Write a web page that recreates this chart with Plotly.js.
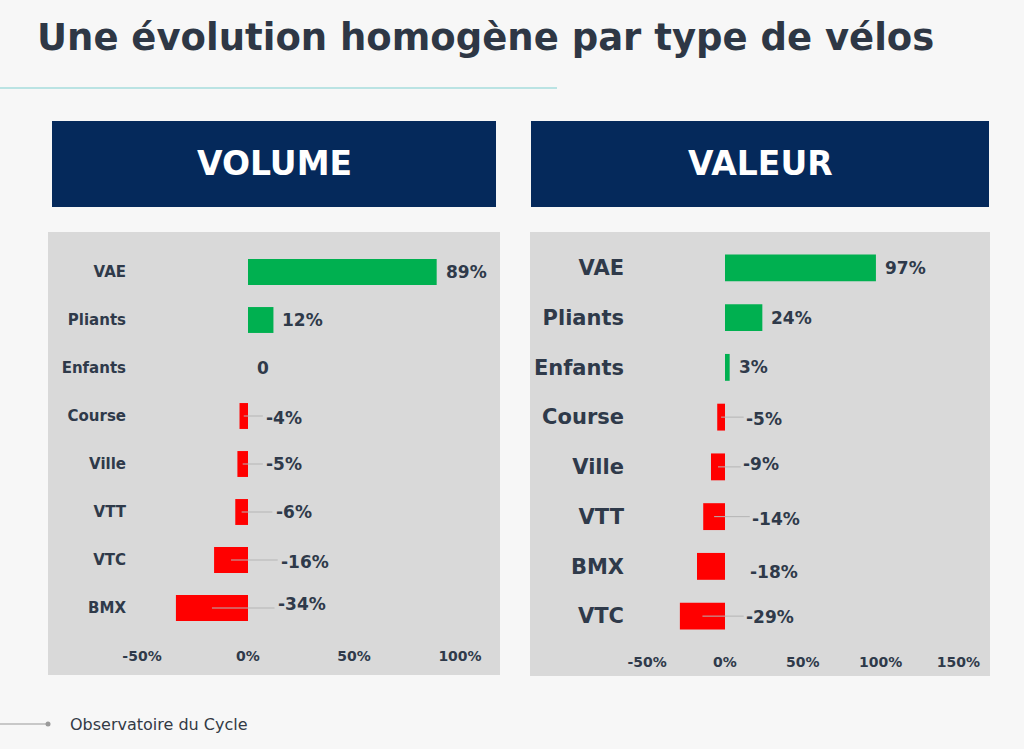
<!DOCTYPE html>
<html><head><meta charset="utf-8">
<script src="https://cdn.plot.ly/plotly-3.0.1.min.js"></script>
<style>html,body{margin:0;padding:0;background:#f7f7f7;}#chart{width:1024px;height:749px;}</style>
</head><body><div id="chart"></div>
<script>
// ---- data ----
const volumeCategories = ["VAE","Pliants","Enfants","Course","Ville","VTT","VTC","BMX"];
const volumeValues     = [89, 12, 0, -4, -5, -6, -16, -34];
const volumeLabels     = ["89%","12%","0","-4%","-5%","-6%","-16%","-34%"];
const valeurCategories = ["VAE","Pliants","Enfants","Course","Ville","VTT","BMX","VTC"];
const valeurValues     = [97, 24, 3, -5, -9, -14, -18, -29];
const valeurLabels     = ["97%","24%","3%","-5%","-9%","-14%","-18%","-29%"];
const volumeTicks = [-50, 0, 50, 100];
const valeurTicks = [-50, 0, 50, 100, 150];
const tickText = v => v + "%";

// ---- style / layout ----
const W = 1024, H = 749;
const FONT = "DejaVu Sans, Verdana, sans-serif";
const TXT = "#2f3a4a";
const GREEN = "#00b050", RED = "#ff0000";
const px = (x) => x / W;
const py = (y) => 1 - y / H;
// label offsets (in axis units) for negative bars, placed right of zero
const volNegShift = [8.5, 8.5, 13, 15.5, 14];
const valNegShift = [13.5, 11.6, 17.4, 16, 13.5];

function barTrace(cats, vals, xa, ya) {
  return {
    type: "bar", orientation: "h", y: cats, x: vals, xaxis: xa, yaxis: ya,
    marker: {color: vals.map(v => v >= 0 ? GREEN : RED), line: {width: 0}},
    width: 0.54, hoverinfo: "skip", showlegend: false
  };
}

const annotations = [], shapes = [];

function panelLabels(cats, vals, labels, negShift, xref, yref, size, yshifts, leaders) {
  let ni = 0;
  vals.forEach((v, i) => {
    if (v >= 0) {
      annotations.push({x: v, y: cats[i], xref, yref, text: labels[i], showarrow: false,
        xanchor: "left", xshift: 7, font: {family: FONT, size, color: TXT, weight: 700}});
    } else {
      const s = negShift[ni++];
      annotations.push({x: s, y: cats[i], xref, yref, text: labels[i], showarrow: false,
        xanchor: "left", xshift: -2, yshift: yshifts[i] || 0, font: {family: FONT, size, color: TXT, weight: 700}});
      if (leaders[i]) {
        shapes.push({type: "line", xref, yref, x0: v / 2, x1: s - 1.5,
          y0: cats[i], y1: cats[i], line: {color: "#b5b5b5", width: 1}});
      }
    }
  });
}

panelLabels(volumeCategories, volumeValues, volumeLabels, volNegShift, "x", "y", 17,
  [0,0,0,-2,0,0,-2,4], [0,0,0,1,1,1,1,1]);
panelLabels(valeurCategories, valeurValues, valeurLabels, valNegShift, "x2", "y2", 17,
  [0,0,0,-2,3,-2,-6,-1], [0,0,0,1,1,1,0,1]);

// background shapes
shapes.push(
  {type:"rect", xref:"paper", yref:"paper", x0:px(48), x1:px(500), y0:py(232), y1:py(675), fillcolor:"#d9d9d9", line:{width:0}, layer:"below"},
  {type:"rect", xref:"paper", yref:"paper", x0:px(530), x1:px(990), y0:py(232), y1:py(676), fillcolor:"#d9d9d9", line:{width:0}, layer:"below"},
  {type:"rect", xref:"paper", yref:"paper", x0:px(52), x1:px(496), y0:py(121), y1:py(207), fillcolor:"#05295b", line:{width:0}, layer:"below"},
  {type:"rect", xref:"paper", yref:"paper", x0:px(531), x1:px(989), y0:py(121), y1:py(207), fillcolor:"#05295b", line:{width:0}, layer:"below"},
  {type:"line", xref:"paper", yref:"paper", x0:0, x1:px(557), y0:py(88), y1:py(88), line:{color:"#7fcfcf", width:1.2}},
  {type:"line", xref:"paper", yref:"paper", x0:0, x1:px(47), y0:py(724), y1:py(724), line:{color:"#9a9a9a", width:1.2}},
  {type:"circle", xref:"paper", yref:"paper", x0:px(45.5), x1:px(50.5), y0:py(721.5), y1:py(726.5), fillcolor:"#9a9a9a", line:{width:0}}
);

annotations.push(
  {xref:"paper", yref:"paper", x:px(35), y:py(37), xanchor:"left", yanchor:"middle", showarrow:false,
   text:"Une évolution homogène par type de vélos", font:{family:FONT, size:37, color:"#2e3745", weight:700}},
  {xref:"paper", yref:"paper", x:px(274), y:py(164), xanchor:"center", yanchor:"middle", showarrow:false,
   text:"VOLUME", font:{family:FONT, size:33, color:"#ffffff", weight:700}},
  {xref:"paper", yref:"paper", x:px(760), y:py(164), xanchor:"center", yanchor:"middle", showarrow:false,
   text:"VALEUR", font:{family:FONT, size:33, color:"#ffffff", weight:700}},
  {xref:"paper", yref:"paper", x:px(68), y:py(724), xanchor:"left", yanchor:"middle", showarrow:false,
   text:"Observatoire du Cycle", font:{family:FONT, size:16, color:"#333a45"}}
);

// axis geometry: left zero at 248px, 2.12 px per %; right zero at 725px, 1.556 px per %
const L = {x0:133, x1:490, zero:248, k:2.12, y0:248, y1:632};
const R = {x0:630, x1:985, zero:725, k:1.556, y0:243, y1:641};

const layout = {
  width: W, height: H, margin: {l:0, r:0, t:0, b:0},
  paper_bgcolor: "#f7f7f7", plot_bgcolor: "rgba(0,0,0,0)",
  bargap: 0.46, showlegend: false,
  xaxis: {domain:[px(L.x0), px(L.x1)], anchor:"y",
    range:[(L.x0-L.zero)/L.k, (L.x1-L.zero)/L.k], showgrid:false, zeroline:false,
    tickvals: volumeTicks, ticktext: volumeTicks.map(tickText), ticks:"", ticklabelstandoff: 14,
    tickfont:{family:FONT, size:14, color:TXT, weight:700}, fixedrange:true},
  yaxis: {domain:[py(L.y1), py(L.y0)], anchor:"x", type:"category",
    categoryorder:"array", categoryarray: volumeCategories.slice().reverse(),
    showgrid:false, zeroline:false, ticks:"", ticklabelstandoff: 6,
    tickfont:{family:FONT, size:15, color:TXT, weight:700}, fixedrange:true},
  xaxis2: {domain:[px(R.x0), px(R.x1)], anchor:"y2",
    range:[(R.x0-R.zero)/R.k, (R.x1-R.zero)/R.k], showgrid:false, zeroline:false,
    tickvals: valeurTicks, ticktext: valeurTicks.map(tickText), ticks:"", ticklabelstandoff: 11,
    tickfont:{family:FONT, size:14, color:TXT, weight:700}, fixedrange:true},
  yaxis2: {domain:[py(R.y1), py(R.y0)], anchor:"x2", type:"category",
    categoryorder:"array", categoryarray: valeurCategories.slice().reverse(),
    showgrid:false, zeroline:false, ticks:"", ticklabelstandoff: 5,
    tickfont:{family:FONT, size:21, color:TXT, weight:700}, fixedrange:true},
  shapes, annotations
};

Plotly.newPlot("chart", [
  barTrace(volumeCategories, volumeValues, "x", "y"),
  barTrace(valeurCategories, valeurValues, "x2", "y2")
], layout, {displayModeBar:false, staticPlot:true});
</script></body></html>
